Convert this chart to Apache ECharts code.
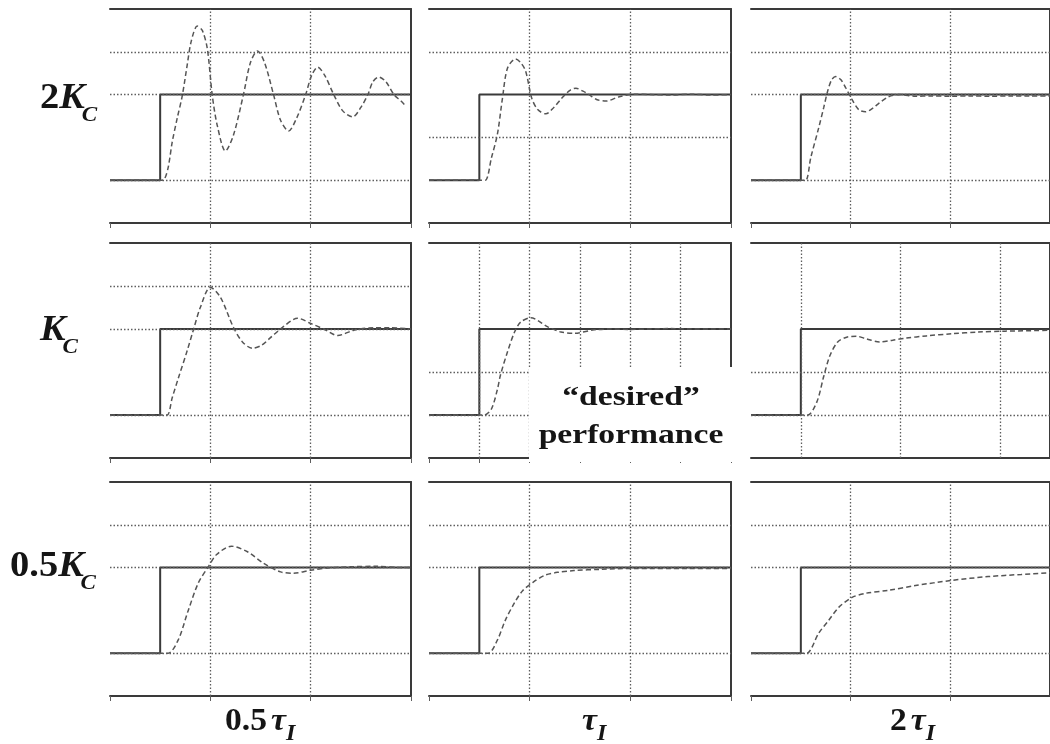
<!DOCTYPE html>
<html><head><meta charset="utf-8">
<script src="https://cdn.jsdelivr.net/npm/echarts@6/dist/echarts.min.js"></script>
<style>html,body{margin:0;padding:0;background:#fff}#c{width:1050px;height:744px}</style>
</head><body><div id="c"></div>
<script>
// ---- data (time units 0..30, step applied at t=5; level 1 -> 3) ----
const stepT = [0, 5, 5, 30];
const stepY = [1, 1, 3, 3];

// row 1: 2Kc ; row 2: Kc ; row 3: 0.5Kc   | col 1: 0.5 tauI ; col 2: tauI ; col 3: 2 tauI
const r11 = [[0,1],[5,1],[5.4,1.02],[5.8,1.3],[6.2,1.89],[6.7,2.45],[7.2,2.97],[7.7,3.7],[8.1,4.25],[8.7,4.6],[9.2,4.5],[9.7,4.07],[10.2,2.97],[10.7,2.27],[11.5,1.68],[12.3,2.05],[13.3,3.0],[14.0,3.75],[14.7,4.02],[15.4,3.75],[16.3,3.0],[17.0,2.4],[17.8,2.15],[18.6,2.45],[19.5,3.0],[20.1,3.45],[20.7,3.64],[21.4,3.45],[22.3,3.0],[23.2,2.62],[24.2,2.48],[25.0,2.7],[25.7,3.0],[26.2,3.3],[26.8,3.41],[27.5,3.3],[28.3,3.0],[29.0,2.85],[29.5,2.73]];
const r12 = [[0,1],[5,1],[5.6,1.0],[6.2,1.52],[6.8,2.08],[7.3,2.92],[7.8,3.62],[8.6,3.83],[9.1,3.75],[9.6,3.55],[10.2,2.92],[10.8,2.65],[11.6,2.55],[12.4,2.7],[13.2,2.92],[14.0,3.1],[14.6,3.15],[15.3,3.08],[15.9,3.0],[16.7,2.88],[17.6,2.85],[18.9,2.95],[20.5,3.01],[22,3.0],[24,2.99],[26,3.01],[28,2.99],[30,3.0]];
const r13 = [[0,1],[5,1],[5.5,1.0],[6.0,1.53],[6.8,2.23],[7.3,2.7],[7.7,3.09],[8.1,3.35],[8.5,3.42],[9.0,3.35],[9.5,3.16],[10.1,2.9],[10.8,2.65],[11.5,2.6],[12.2,2.68],[12.8,2.79],[13.8,2.95],[15,3.0],[16.5,2.96],[18,2.97],[20,2.96],[22,2.97],[24,2.96],[26,2.97],[28,2.97],[30,2.97]];
const r21 = [[0,1],[5,1],[5.7,1.0],[6.2,1.4],[6.8,1.85],[7.7,2.5],[8.3,2.97],[9.0,3.5],[10,3.97],[11,3.74],[12.3,3.04],[13.2,2.7],[14.2,2.55],[15.1,2.62],[16,2.8],[17.2,3.04],[18.7,3.25],[20,3.13],[21.3,3.0],[22.7,2.85],[24.3,2.97],[26.3,3.03],[28,3.03],[30,3.0]];
const r22 = [[0,1],[5,1],[5.5,1.0],[6.2,1.14],[6.8,1.6],[7.1,1.93],[7.8,2.47],[8.5,2.93],[9.1,3.16],[10.1,3.26],[11.8,3.05],[13.1,2.93],[14.4,2.9],[16.4,2.98],[18,3.0],[20,2.99],[22,3.0],[24,3.01],[26,3.0],[28,3.0],[30,3.0]];
const r23 = [[0,1],[5,1],[5.7,1.0],[6.6,1.3],[7.3,1.9],[7.9,2.37],[8.7,2.7],[9.6,2.81],[10.6,2.83],[11.6,2.77],[12.9,2.7],[14.2,2.74],[15.6,2.79],[17.6,2.84],[20.2,2.89],[22.8,2.93],[25.5,2.95],[30,2.97]];
const r31 = [[0,1],[5,1],[5.8,1.0],[6.8,1.31],[7.8,2.0],[8.8,2.64],[9.8,3.02],[10.6,3.3],[12.1,3.5],[13.7,3.37],[15.3,3.1],[17,2.9],[18.3,2.87],[20,2.94],[21.7,2.99],[24,3.02],[26.6,3.03],[29.2,3.0],[30,3.0]];
const r32 = [[0,1],[5,1],[5.9,1.0],[6.8,1.31],[7.6,1.78],[8.5,2.18],[9.3,2.46],[10.3,2.65],[11.5,2.82],[12.8,2.89],[14.4,2.93],[17.1,2.96],[20.4,2.98],[25.7,2.98],[30,2.98]];
const r33 = [[0,1],[5,1],[5.6,1.0],[6.8,1.47],[7.8,1.77],[8.8,2.07],[10.1,2.3],[11.5,2.4],[13.8,2.47],[16.5,2.58],[20.1,2.7],[23.8,2.79],[27.1,2.84],[30,2.88]];

// gridline positions per panel
const hGridA = [1, 3, 4];
const hGridB = [2, 4];
const hGridC = [1, 2];
const vGridA = [10, 20];
const vGridB = [5, 10, 15, 20, 25];
const vGridC = [5, 15, 25];

const rowCoef = ['2', '', '0.5'];
const colCoef = ['0.5', '', '2'];

// ---- layout ----
const rowTop = [9, 243, 482];
const rowH = [214, 215, 214];
const colLeft = [110, 429, 751];
const colW = [301, 302, 300];

const panels = [
  {r:0,c:0,d:r11,h:hGridA,v:vGridA},
  {r:0,c:1,d:r12,h:hGridB,v:vGridA},
  {r:0,c:2,d:r13,h:hGridA,v:vGridA},
  {r:1,c:0,d:r21,h:hGridA,v:vGridA},
  {r:1,c:1,d:r22,h:hGridC,v:vGridB},
  {r:1,c:2,d:r23,h:hGridC,v:vGridC},
  {r:2,c:0,d:r31,h:hGridA,v:vGridA},
  {r:2,c:1,d:r32,h:hGridA,v:vGridA},
  {r:2,c:2,d:r33,h:hGridA,v:vGridA}
];

const SOLID = '#3a3a3a', DOT = '#5e5e5e', CURVE = '#555555';
const grid = [], xAxis = [], yAxis = [], series = [];
panels.forEach((p, i) => {
  grid.push({left: colLeft[p.c], top: rowTop[p.r], width: colW[p.c], height: rowH[p.r]});
  xAxis.push({type:'value', gridIndex:i, min:0, max:30, interval: p.v === vGridB ? 5 : 10, position:'bottom',
    axisLine:{show:true, onZero:false, lineStyle:{color:SOLID, width:2}},
    axisTick:{show: p.v !== vGridC, length:5, lineStyle:{color:DOT, width:1}},
    axisLabel:{show:false}, splitLine:{show:false}});
  xAxis.push({type:'value', gridIndex:i, min:0, max:30, position:'top',
    axisLine:{show:true, onZero:false, lineStyle:{color:SOLID, width:2}},
    axisTick:{show:false}, axisLabel:{show:false}, splitLine:{show:false}});
  yAxis.push({type:'value', gridIndex:i, min:0, max:5, position:'left',
    axisLine:{show:false, onZero:false},
    axisTick:{show:false}, axisLabel:{show:false}, splitLine:{show:false}});
  yAxis.push({type:'value', gridIndex:i, min:0, max:5, position:'right',
    axisLine:{show:true, onZero:false, lineStyle:{color:SOLID, width:2}},
    axisTick:{show:false}, axisLabel:{show:false}, splitLine:{show:false}});
  const xi = 2*i, yi = 2*i;
  series.push({type:'line', xAxisIndex:xi, yAxisIndex:yi, data:[], z:1, silent:true,
    markLine:{silent:true, symbol:['none','none'], label:{show:false}, animation:false,
      lineStyle:{type:[1.5,2], color:DOT, width:1.3},
      emphasis:{disabled:true},
      data: p.h.map(v => ({yAxis:v})).concat(p.v.map(v => ({xAxis:v})))}});
  series.push({type:'line', xAxisIndex:xi, yAxisIndex:yi, z:3, silent:true, symbol:'none',
    data: stepT.map((t,k) => [t, stepY[k]]), lineStyle:{color:SOLID, width:2}});
  series.push({type:'line', xAxisIndex:xi, yAxisIndex:yi, z:4, silent:true, symbol:'none',
    smooth:0.3, data:p.d, lineStyle:{color:CURVE, width:1.5, type:[5,3]}});
});

// ---- labels ----
const cv = document.createElement('canvas').getContext('2d');
const FF = '"Liberation Serif", "Times New Roman", serif';
function w(txt, font){ cv.font = font; return cv.measureText(txt).width; }
const graphic = [];
function txt(s, x, y, font, sx, align){
  graphic.push({type:'text', x:x, y:y, z:120, scaleX: sx || 1,
    style:{text:s, font:font, fill:'#151515', textAlign: align || 'left', textVerticalAlign:'middle'}});
}
const rowX = [40, 40, 10], rowY = [99, 331, 567], RS = 1.1;
for (let r = 0; r < 3; r++) {
  let x = rowX[r];
  const fUp = 'bold 35px ' + FF, fIt = 'italic bold 35px ' + FF, fSub = 'italic bold 21px ' + FF;
  if (rowCoef[r]) { txt(rowCoef[r], x, rowY[r], fUp, RS); x += w(rowCoef[r], fUp) * RS; }
  txt('K', x, rowY[r], fIt, RS); x += (w('K', fIt) - 3) * RS;
  txt('C', x, rowY[r] + 17, fSub, RS);
}
const colX = [225, 582, 890], colY = 722, CS = 1.05;
for (let c = 0; c < 3; c++) {
  let x = colX[c];
  const fUp = 'bold 32px ' + FF, fIt = 'italic bold 32px ' + FF, fSub = 'italic bold 23px ' + FF;
  if (colCoef[c]) { txt(colCoef[c], x, colY, fUp, CS); x += w(colCoef[c], fUp) * CS + 4; }
  txt('τ', x, colY, fIt, CS); x += w('τ', fIt) * CS;
  txt('I', x, colY + 12, fSub, CS);
}
graphic.push({type:'rect', z:110, shape:{x:529, y:367, width:216, height:95}, style:{fill:'#ffffff'}});
txt('“desired”', 631, 398, 'bold 28px ' + FF, 1.2, 'center');
txt('performance', 631, 436, 'bold 28px ' + FF, 1.2, 'center');

const chart = echarts.init(document.getElementById('c'), null, {renderer:'canvas'});
chart.setOption({animation:false, backgroundColor:'#ffffff', grid, xAxis, yAxis, series, graphic});
</script></body></html>
